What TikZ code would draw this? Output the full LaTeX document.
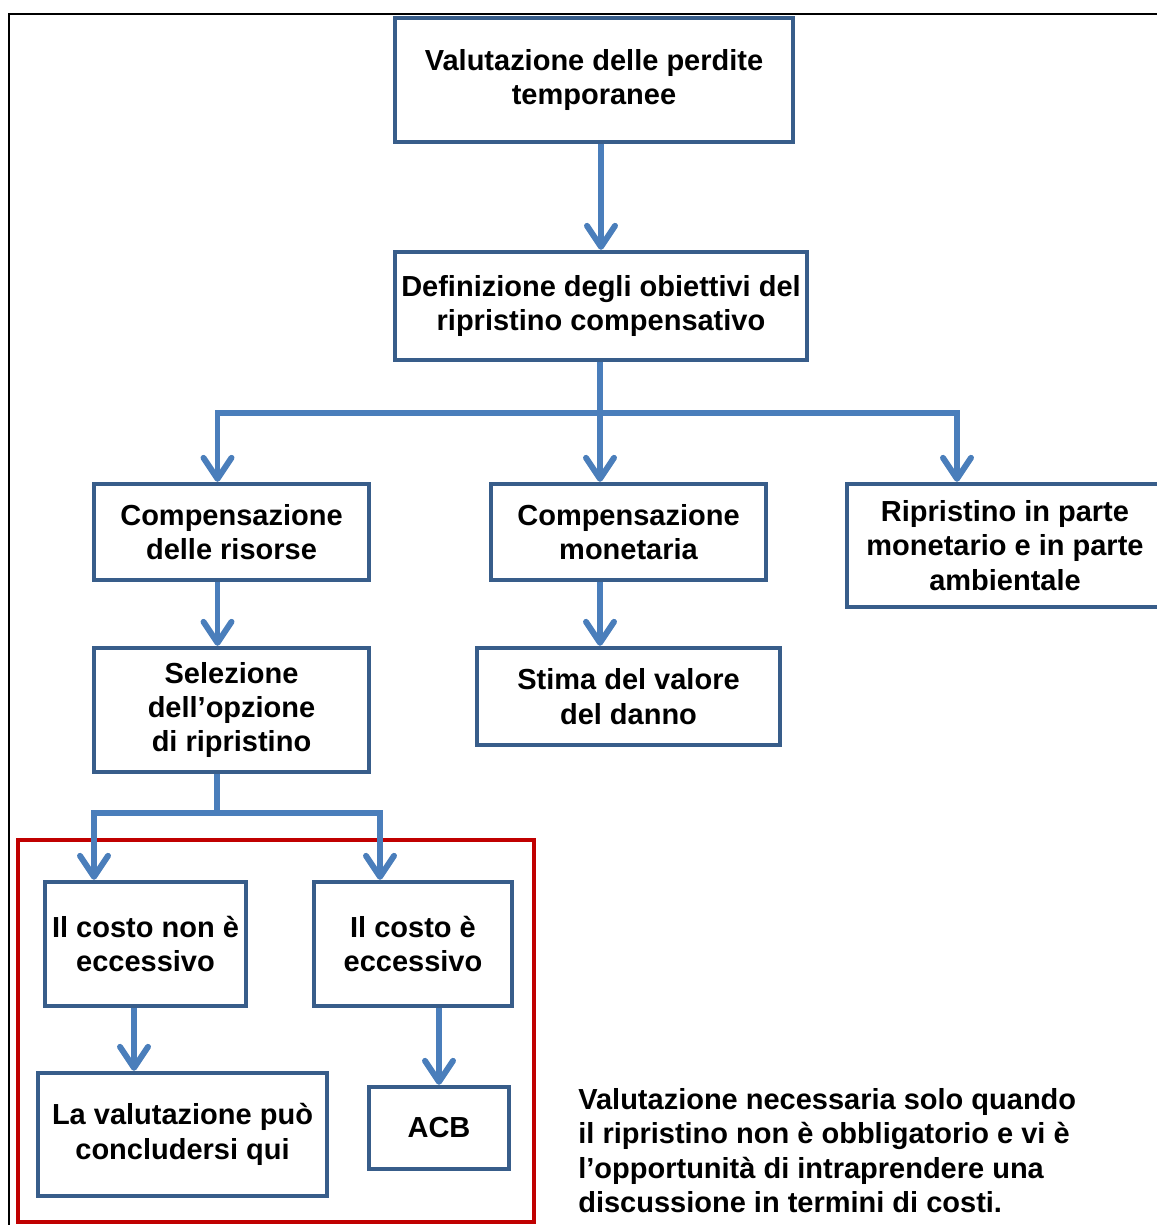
\documentclass[tikz,border=0pt]{standalone}
\usepackage{fontspec}
\setmainfont{Liberation Sans}
\usetikzlibrary{arrows.meta,positioning,calc}

\definecolor{boxblue}{RGB}{56,93,138}
\definecolor{arrowblue}{RGB}{74,126,187}
\definecolor{framered}{RGB}{192,0,0}

\begin{document}
\begin{tikzpicture}[
    x=0.02cm, y=-0.02cm,
    box/.style={draw=boxblue, rectangle, fill=white, line width=2.5pt, align=center, inner sep=1pt, font=\bfseries\fontsize{16.5}{19.6}\selectfont},
    flow/.style={draw=arrowblue, line width=3.4pt},
    arrow/.style={flow, -{Straight Barb[length=0.42cm, width=0.56cm, round]}}
]
    \useasboundingbox (0,0) rectangle (1157,1225);

    % Outer frame
    \draw[line width=1.2pt] (9,1240) -- (9,14) -- (1170,14);

    % Top: losses and objectives
    \node[box, minimum width=7.96cm, minimum height=2.48cm] (perdite) at (594,80) {Valutazione delle perdite\\temporanee};
    \node[box, minimum width=8.24cm, minimum height=2.16cm] (obiettivi) at (601,306) {Definizione degli obiettivi del\\ripristino compensativo};

    % Second row: the three options
    \node[box, minimum width=5.5cm, minimum height=1.92cm] (risorse) at (231.5,532) {Compensazione\\delle risorse};
    \node[box, minimum width=5.5cm, minimum height=1.92cm] (monetaria) at (628.5,532) {Compensazione\\monetaria};
    \node[box, minimum width=6.32cm, minimum height=2.46cm] (misto) at (1005,545.5) {Ripristino in parte\\monetario e in parte\\ambientale};

    % Third row
    \node[box, minimum width=5.5cm, minimum height=2.48cm] (selezione) at (231.5,710) {Selezione\\dell’opzione\\di ripristino};
    \node[box, minimum width=6.06cm, minimum height=1.94cm] (stima) at (628.5,696.5) {Stima del valore\\del danno};

    % Cost test inside the red frame
    \draw[framered, line width=2.3pt] (18,840) rectangle (534,1222);
    \node[box, minimum width=4.02cm, minimum height=2.48cm] (nonecc) at (145.5,944) {Il costo non è\\eccessivo};
    \node[box, minimum width=3.96cm, minimum height=2.48cm] (ecc) at (413,944) {Il costo è\\eccessivo};
    \node[box, minimum width=5.78cm, minimum height=2.46cm] (concludi) at (182.5,1134.5) {La valutazione può\\concludersi qui};
    \node[box, minimum width=2.8cm, minimum height=1.64cm] (acb) at (439,1128) {ACB};

    % Side note
    \node[anchor=north west, inner sep=0pt, align=left, font=\bfseries\fontsize{16.5}{19.6}\selectfont] (nota) at (578,1088) {Valutazione necessaria solo quando\\il ripristino non è obbligatorio e vi è\\l’opportunità di intraprendere una\\discussione in termini di costi.};

    % Arrow entry points
    \coordinate (risIn) at ([xshift=-0.28cm]risorse.north);
    \coordinate (monIn) at ([xshift=-0.57cm]monetaria.north);
    \coordinate (mistoIn) at ([xshift=-0.96cm]misto.north);
    \coordinate (nonIn) at ([xshift=-1.03cm]nonecc.north);
    \coordinate (eccIn) at ([xshift=-0.66cm]ecc.north);
    \coordinate (split) at (600,413);
    \coordinate (split2) at (217,813);

    % Connectors
    \draw[arrow] (perdite.south -| obiettivi.north) -- (obiettivi.north);
    \draw[flow] (obiettivi.south -| split) -- (split);
    \draw[arrow] (split) -| (risIn);
    \draw[arrow] (split) -| (mistoIn);
    \draw[arrow] (split) -- (monIn);
    \draw[arrow] (risorse.south -| risIn) -- (selezione.north -| risIn);
    \draw[arrow] (monetaria.south -| monIn) -- (stima.north -| monIn);
    \draw[flow] (selezione.south -| split2) -- (split2);
    \draw[arrow] (split2) -| (nonIn);
    \draw[arrow] (split2) -| (eccIn);
    \draw[arrow] ([xshift=-0.23cm]nonecc.south) -- ([xshift=-0.23cm]nonecc.south |- concludi.north);
    \draw[arrow] (ecc.south -| acb.north) -- (acb.north);

\end{tikzpicture}
\end{document}
